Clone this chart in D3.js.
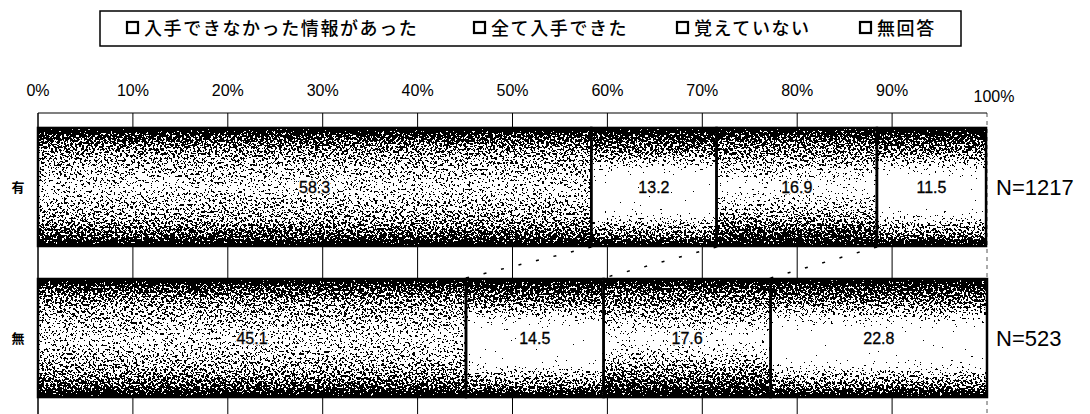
<!DOCTYPE html>
<html><head><meta charset="utf-8">
<script src="https://cdn.jsdelivr.net/npm/d3@7"></script>
<style>body{margin:0;background:#fff}svg{display:block}</style>
</head><body><svg id="c" width="1090" height="414"></svg>
<script>
// ---- data ----
const categories = ["有", "無"];
const seriesNames = ["入手できなかった情報があった", "全て入手できた", "覚えていない", "無回答"];
const valuesAri = [58.3, 13.2, 16.9, 11.5];
const valuesNashi = [45.1, 14.5, 17.6, 22.8];
const nLabels = ["N=1217", "N=523"];
const tickValues = [0, 10, 20, 30, 40, 50, 60, 70, 80, 90, 100];
const tickLabels = ["0%", "10%", "20%", "30%", "40%", "50%", "60%", "70%", "80%", "90%", "100%"];

const rows = [valuesAri, valuesNashi];
const svg = d3.select("#c");
const FONT = "'Liberation Sans', Arial, sans-serif";
const JFONT = "'Noto Sans CJK JP', sans-serif";

const x = d3.scaleLinear().domain([0, 100]).range([38, 987]);
const y = d3.scaleBand().domain(categories).range([113, 412]).paddingInner(0.2185).paddingOuter(0.099);

// ---- defs: gradients + speckle filter ----
const defs = svg.append("defs");
const lightStops = [[0, .15], [.08, .35], [.2, .5], [.3, .68], [.4, .9], [.46, 1], [.64, 1], [.72, .88], [.82, .62], [.92, .45], [1, .15]];
const gradStops = [
  [[0, .1], [.06, .35], [.2, .55], [.5, .72], [.8, .55], [.94, .35], [1, .1]],
  lightStops,
  [[0, .2], [.12, .45], [.3, .6], [.5, .86], [.64, .7], [.84, .45], [1, .2]],
  lightStops
];
gradStops.forEach((st, i) => {
  const g = defs.append("linearGradient").attr("id", "g" + i)
    .attr("x1", 0).attr("y1", 0).attr("x2", 0).attr("y2", 1);
  st.forEach(([o, v]) => {
    const c = Math.round(v * 255);
    g.append("stop").attr("offset", o).attr("stop-color", `rgb(${c},${c},${c})`);
  });
});
const f = defs.append("filter").attr("id", "speck")
  .attr("x", 0).attr("y", 0).attr("width", 1).attr("height", 1)
  .attr("color-interpolation-filters", "sRGB");
f.append("feTurbulence").attr("type", "fractalNoise").attr("baseFrequency", 0.45)
  .attr("numOctaves", 3).attr("seed", 7).attr("result", "n");
f.append("feColorMatrix").attr("in", "n").attr("type", "matrix")
  .attr("values", "1 0 0 0 0 1 0 0 0 0 1 0 0 0 0 0 0 0 0 1").attr("result", "gn");
f.append("feComposite").attr("in", "SourceGraphic").attr("in2", "gn").attr("operator", "arithmetic")
  .attr("k1", 0).attr("k2", 1.6).attr("k3", 2.5).attr("k4", -1.55).attr("result", "sum");
const ct = f.append("feComponentTransfer").attr("in", "sum").attr("result", "th");
["feFuncR", "feFuncG", "feFuncB"].forEach(n => ct.append(n).attr("type", "discrete").attr("tableValues", "0 1"));
ct.append("feFuncA").attr("type", "linear").attr("slope", 0).attr("intercept", 1);
f.append("feComposite").attr("in", "th").attr("in2", "SourceGraphic").attr("operator", "in");

// ---- legend ----
svg.append("rect").attr("x", 100).attr("y", 11).attr("width", 861).attr("height", 35)
  .attr("fill", "#fff").attr("stroke", "#000").attr("stroke-width", 1.5);
const legendX = [127, 474, 677, 860];
seriesNames.forEach((s, i) => {
  svg.append("rect").attr("x", legendX[i]).attr("y", 22).attr("width", 11).attr("height", 11)
    .attr("fill", "#fff").attr("stroke", "#000").attr("stroke-width", 2.2);
  svg.append("text").attr("x", legendX[i] + 17).attr("y", 35)
    .attr("font-family", JFONT).attr("font-size", 18).attr("letter-spacing", 1.6)
    .attr("font-weight", 500).attr("fill", "#000").text(s);
});

// ---- axis labels ----
tickValues.forEach((t, i) => {
  svg.append("text").attr("x", t === 100 ? x(t) + 7 : x(t)).attr("y", t === 100 ? 102 : 96)
    .attr("text-anchor", "middle").attr("font-family", FONT).attr("font-size", 16)
    .attr("fill", "#000").text(tickLabels[i]);
});

// ---- grid ----
const grid = svg.append("g");
tickValues.forEach(t => {
  grid.append("line").attr("x1", x(t)).attr("x2", x(t)).attr("y1", 113).attr("y2", 414)
    .attr("stroke", t === 100 ? "#555" : "#000").attr("stroke-width", t === 0 ? 1.5 : 1)
    .attr("stroke-dasharray", t === 100 ? "4,4" : null);
});
grid.append("line").attr("x1", x(0)).attr("x2", x(100)).attr("y1", 113).attr("y2", 113)
  .attr("stroke", "#000").attr("stroke-width", 1.2);

// ---- bars ----
const segs = [];
rows.forEach((vals, r) => {
  let c = 0;
  vals.forEach((v, i) => { segs.push({ r, i, v, x0: c, x1: c + v }); c += v; });
});
const fillG = svg.append("g").attr("filter", "url(#speck)");
fillG.selectAll("rect").data(segs).join("rect")
  .attr("x", d => x(d.x0)).attr("width", d => x(d.x1) - x(d.x0))
  .attr("y", d => y(categories[d.r])).attr("height", y.bandwidth())
  .attr("fill", d => `url(#g${d.i})`);
svg.append("g").selectAll("rect").data(segs).join("rect")
  .attr("x", d => x(d.x0)).attr("width", d => x(d.x1) - x(d.x0))
  .attr("y", d => y(categories[d.r])).attr("height", y.bandwidth())
  .attr("fill", "none").attr("stroke", "#000").attr("stroke-width", 2.5);

// ---- series lines ----
const cumA = d3.cumsum(valuesAri), cumB = d3.cumsum(valuesNashi);
for (let i = 0; i < 3; i++) {
  svg.append("line")
    .attr("x1", x(cumA[i])).attr("y1", y(categories[0]) + y.bandwidth() + 1)
    .attr("x2", x(cumB[i])).attr("y2", y(categories[1]) - 1)
    .attr("stroke", "#000").attr("stroke-width", 1.5).attr("stroke-dasharray", "3,15");
}

// ---- value labels ----
const lab = svg.append("g");
lab.selectAll("text.halo").data(segs).join("text").attr("class", "halo")
  .attr("x", d => x((d.x0 + d.x1) / 2)).attr("y", d => y(categories[d.r]) + y.bandwidth() / 2 + 6)
  .attr("text-anchor", "middle").attr("font-family", FONT).attr("font-size", 16)
  .attr("fill", "#fff").attr("stroke", "#fff").attr("stroke-width", 3).attr("stroke-linejoin", "round")
  .text(d => d.v.toFixed(1));
lab.selectAll("text.val").data(segs).join("text").attr("class", "val")
  .attr("x", d => x((d.x0 + d.x1) / 2)).attr("y", d => y(categories[d.r]) + y.bandwidth() / 2 + 6)
  .attr("text-anchor", "middle").attr("font-family", FONT).attr("font-size", 16)
  .attr("fill", "#000").attr("stroke", "#000").attr("stroke-width", 0.3)
  .text(d => d.v.toFixed(1));

// ---- category labels and N ----
categories.forEach((c, r) => {
  const cy = y(c) + y.bandwidth() / 2;
  svg.append("text").attr("x", 18).attr("y", cy + 5).attr("text-anchor", "middle")
    .attr("font-family", JFONT).attr("font-size", 13).attr("font-weight", "bold").text(c);
  svg.append("text").attr("x", 996).attr("y", cy + 8)
    .attr("font-family", FONT).attr("font-size", 22).text(nLabels[r]);
});
</script></body></html>
